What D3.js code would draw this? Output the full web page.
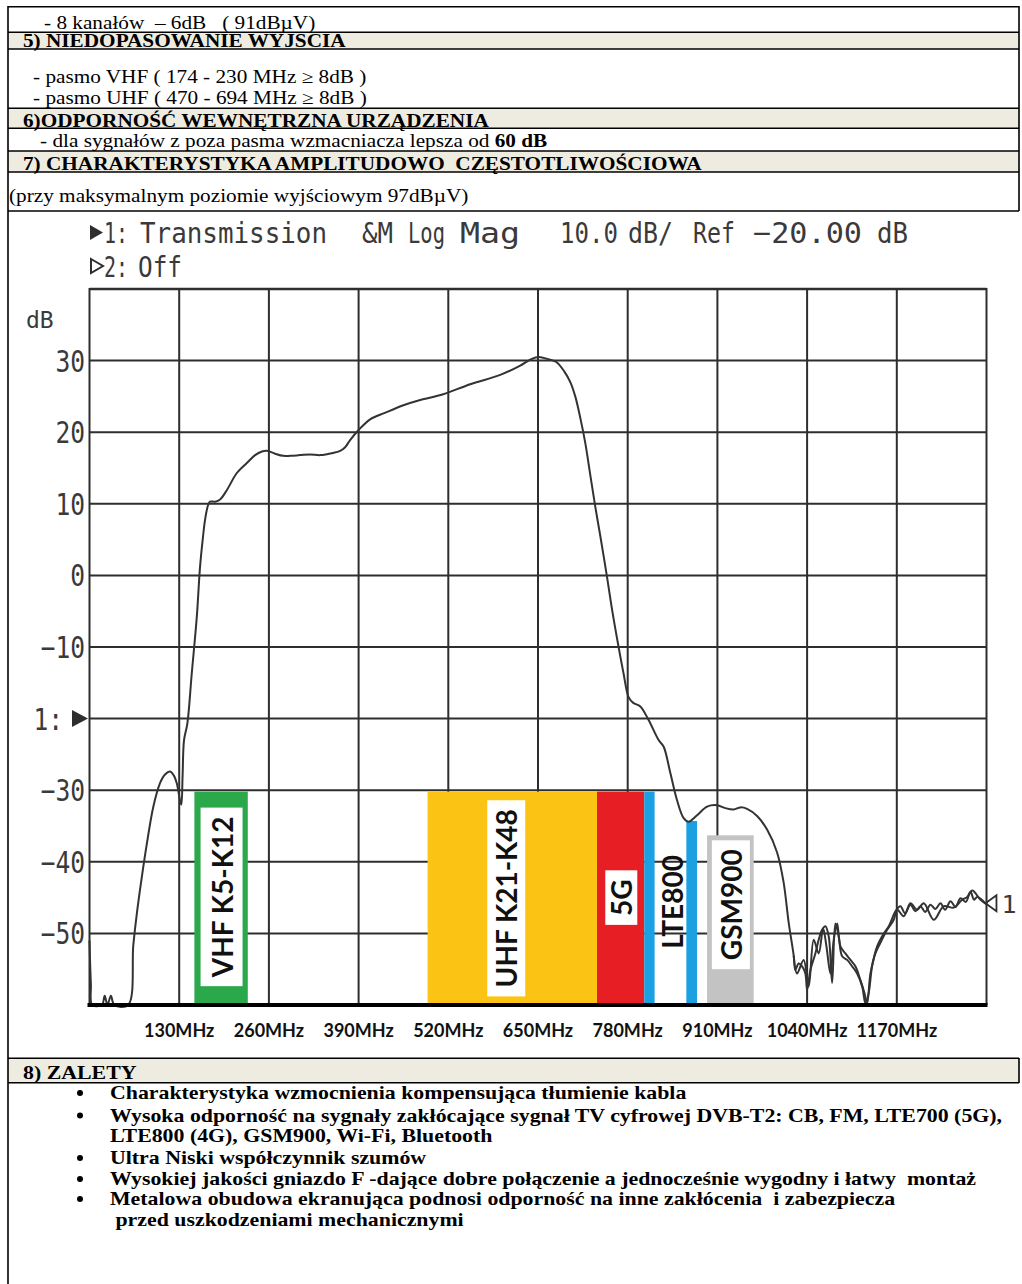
<!DOCTYPE html>
<html><head><meta charset="utf-8">
<script src="https://cdn.jsdelivr.net/npm/d3@7"></script>
<style>
html,body{margin:0;padding:0;background:#fff;}
svg{display:block;}
text{white-space:pre;}
</style></head><body>
<script>
// ---------- DATA ----------
const xGridMHz = [0,130,260,390,520,650,780,910,1040,1170,1300];
const xTickValues = [130,260,390,520,650,780,910,1040,1170];
const xTickLabels = ["130MHz","260MHz","390MHz","520MHz","650MHz","780MHz","910MHz","1040MHz","1170MHz"];
const yGridDb = [40,30,20,10,0,-10,-20,-30,-40,-50,-60];
const yTickValues = [30,20,10,0,-10,-20,-30,-40,-50];
const yTickLabels = ["30","20","10","0","−10","1:","−30","−40","−50"];

// sweep 1 (MHz, dB)
const trace1 = [
 [0,-51],[2,-57],[4,-60],[18,-60],[22,-58.7],[26,-60],[31,-58.7],[36,-60],[56,-60],
 [63.5,-51.6],[68.9,-47],[75.7,-42.2],[82.9,-37.6],[92.5,-32.3],[102.2,-29],[109.5,-27.8],
 [116.7,-27.4],[122.5,-28],[126.4,-29],[131.2,-31.4],[133.1,-32],[134.9,-28],[137,-23],
 [141.8,-20.7],[148.2,-13.7],[155.5,-5.8],[160.2,1.2],[164.6,5.5],[167.5,7.8],[171.8,9.8],
 [174.7,10.3],[182,10.3],[189.2,10.6],[199,11.9],[213.5,14.3],[228,15.7],[240,16.8],
 [250,17.3],[257,17.4],[269,17.0],[280.6,16.7],[290.7,16.7],[305.2,16.8],[319.7,16.9],
 [334.3,16.8],[353,17.1],[363.3,17.4],[370.5,17.9],[377.7,18.9],[390,20.3],[406.7,21.8],
 [428,22.7],[456,23.8],[479.3,24.5],[512.6,25.3],[551.7,26.7],[595.3,28],[624.3,29.3],
 [640.2,30.2],[651.1,30.5],[664.9,30.2],[676.5,29.8],[688,28.5],[696.8,27],[704,25],
 [711.3,22],[718.5,18.5],[725.8,14],[733,9.6],[740.3,5.5],[750,-0.2],[757.7,-5],
 [766.8,-10],[774,-13.7],[781.3,-17],[788.1,-17.8],[798.3,-18.3],[810.3,-20.2],
 [824.8,-23],[832,-23.9],[841.8,-27.6],[851.5,-31.4],[861.1,-33.9],[868.3,-34.4],
 [880.5,-33.5],[895,-32.3],[909.5,-32.1],[921.5,-32.5],[933.6,-32.7],[943.3,-32.4],
 [953,-32.6],[967.5,-33.6],[982,-35.5],[996.5,-38.7],[1006,-42.9],[1013.3,-48.5],
 [1020.6,-53.1],[1023,-55.1],[1027.8,-54.2],[1032.8,-54.6],[1037.5,-55.6],[1040,-57.9],
 [1044.8,-55.1],[1052,-52.8],[1056.8,-50.9],[1061.7,-49.5],[1066.5,-49],[1071.3,-50.4],
 [1076.3,-56.9],[1081,-48.6],[1085.8,-50.4],[1090.8,-53.2],[1098,-53.7],[1105.3,-54.6],
 [1112.5,-55.6],[1119.8,-57.4],[1124.6,-59.8],[1129.3,-58.3],[1134.2,-54.6],[1141.5,-51.8],
 [1151.1,-50],[1158.4,-49],[1168.1,-46.9],[1175.3,-46.2],[1182,-47.2],[1189.8,-46],
 [1197,-46.9],[1204.3,-46.2],[1211,-47],[1218.8,-46],[1226,-46.6],[1233.3,-45.8],
 [1240,-46.7],[1247.8,-45.5],[1255,-46.3],[1262.3,-45.1],[1270,-45.6],[1276.8,-44.2],
 [1282,-45.3],[1286.5,-44.9],[1292,-45.2],[1298.5,-45.8]
];
// sweep 2, differs only in the stop band (MHz, dB)
const trace2 = [
 [1020.6,-53.1],[1025.5,-55.6],[1035,-53.7],[1042.3,-57.4],[1049.6,-50.9],[1056.8,-52.8],
 [1063.2,-49.3],[1068,-51.8],[1073.8,-55.6],[1078.6,-50.9],[1083.5,-48.6],[1088.3,-51.8],
 [1095.5,-52.8],[1102.8,-53.7],[1110,-54.6],[1117.2,-56.5],[1123,-58.3],[1127,-59.8],
 [1131.8,-55.6],[1139,-52.8],[1146.3,-51.3],[1156,-49.5],[1165.6,-48.1],[1170.6,-46.7],
 [1180.1,-47.6],[1189.8,-45.8],[1199.5,-46.7],[1209.1,-45.8],[1223.6,-48.1],[1238.1,-46.2],
 [1252.6,-46.4],[1264.8,-45.3],[1272.1,-44.9],[1279.3,-44],[1291.3,-45.3],[1301,-46]
];

// frequency bands overlay
const bandFromMHz = [152, 490, 735.5, 804, 865, 895];
const bandToMHz   = [229.4, 735.5, 804, 819, 880.5, 962.6];
const bandTopDb   = [-30.2, -30.2, -30.2, -30.2, -34.3, -36.3];
const bandColors  = ["#2aa84a", "#fbc414", "#e81e25", "#1ba1e2", "#1ba1e2", "#c3c3c3"];

const labelTexts = ["VHF K5-K12", "UHF K21-K48", "5G", "LTE800", "GSM900"];
const labelMHz   = [191.4, 604, 770.7, 844.6, 929.5];
const labelDb    = [-44.9, -45.1, -45.0, -45.6, -46.0];
const labelBoxW  = [42, 38, 32, 0, 38];

// ---------- DRAW ----------
const W = 1022, H = 1284;
const svg = d3.select("body").append("svg").attr("width", W).attr("height", H);
const serif = "'Liberation Serif','Times New Roman',serif";
const mono = "'DejaVu Sans Mono',monospace";

function stretch(sel, sx) {
  sel.each(function () {
    const L = this.getComputedTextLength();
    d3.select(this).attr("textLength", L * sx).attr("lengthAdjust", "spacingAndGlyphs");
  });
}

// document table: shaded rows
[[32.3, 49], [108.3, 128.3], [151, 172], [1058.3, 1082.7]].forEach(r => {
  svg.append("rect").attr("x", 8).attr("y", r[0]).attr("width", 1011).attr("height", r[1] - r[0]).attr("fill", "#eeece1");
});
[6.7, 32.3, 49, 108.3, 128.3, 151, 172, 211, 1058.3, 1082.7].forEach(yy => {
  svg.append("line").attr("x1", 8).attr("x2", 1019).attr("y1", yy).attr("y2", yy).attr("stroke", "#000").attr("stroke-width", 1.6);
});
svg.append("line").attr("x1", 8).attr("x2", 8).attr("y1", 6).attr("y2", H).attr("stroke", "#000").attr("stroke-width", 1.6);
svg.append("line").attr("x1", 1019).attr("x2", 1019).attr("y1", 6).attr("y2", 211).attr("stroke", "#000").attr("stroke-width", 1.6);
svg.append("line").attr("x1", 1019).attr("x2", 1019).attr("y1", 1058).attr("y2", 1083).attr("stroke", "#000").attr("stroke-width", 1.6);

const topRows = [
  {t: "- 8 kanałów  – 6dB   ( 91dBµV)", x: 44, y: 29, b: false},
  {t: "5) NIEDOPASOWANIE WYJSCIA", x: 23, y: 46.5, b: true},
  {t: "- pasmo VHF ( 174 - 230 MHz ≥ 8dB )", x: 33, y: 83, b: false},
  {t: "- pasmo UHF ( 470 - 694 MHz ≥ 8dB )", x: 33, y: 104, b: false},
  {t: "6)ODPORNOŚĆ WEWNĘTRZNA URZĄDZENIA", x: 23, y: 126.5, b: true},
  {t: "7) CHARAKTERYSTYKA AMPLITUDOWO  CZĘSTOTLIWOŚCIOWA", x: 23, y: 170, b: true},
  {t: "(przy maksymalnym poziomie wyjściowym 97dBµV)", x: 9, y: 202, b: false}
];
const topText = svg.append("g").attr("font-family", serif).attr("font-size", 18).attr("fill", "#000");
topText.selectAll("text.r").data(topRows).join("text").attr("class", "r")
  .attr("x", d => d.x).attr("y", d => d.y).attr("font-weight", d => d.b ? "bold" : "normal").text(d => d.t);
const dla = topText.append("text").attr("x", 40).attr("y", 146.5);
dla.append("tspan").text("- dla sygnałów z poza pasma wzmacniacza lepsza od ");
dla.append("tspan").attr("font-weight", "bold").text("60 dB");
stretch(topText.selectAll("text"), 1.18);

// ---------- CHART ----------
const x = d3.scaleLinear().domain([0, 1300]).range([89.5, 986.5]);
const y = d3.scaleLinear().domain([-60, 40]).range([1005, 289]);
const ink = "#2e2e2e";

const grid = svg.append("g").attr("stroke", ink).attr("stroke-width", 2);
grid.selectAll("line.v").data(xGridMHz).join("line").attr("class", "v")
  .attr("x1", d => x(d)).attr("x2", d => x(d)).attr("y1", y(40) - 1).attr("y2", y(-60));
grid.selectAll("line.h").data(yGridDb).join("line").attr("class", "h")
  .attr("x1", x(0)).attr("x2", x(1300)).attr("y1", d => y(d)).attr("y2", d => y(d))
  .attr("stroke-width", d => d === 40 ? 2.5 : 2);

// bands
svg.append("g").selectAll("rect").data(bandFromMHz).join("rect")
  .attr("x", (d, i) => x(d)).attr("width", (d, i) => x(bandToMHz[i]) - x(d))
  .attr("y", (d, i) => y(bandTopDb[i])).attr("height", (d, i) => y(-60) - y(bandTopDb[i]))
  .attr("fill", (d, i) => bandColors[i]);

labelTexts.forEach((t, i) => {
  const g = svg.append("g").attr("transform", `translate(${x(labelMHz[i])},${y(labelDb[i])}) rotate(-90)`);
  const r = g.append("rect").attr("fill", "#fff");
  const tx = g.append("text").attr("text-anchor", "middle").attr("dominant-baseline", "central")
    .attr("font-family", "Lato, 'Open Sans', sans-serif").attr("font-weight", 700).attr("font-size", 28)
    .attr("fill", "#111").text(t);
  if (labelBoxW[i] > 0) {
    const L = tx.node().getComputedTextLength();
    r.attr("x", -L / 2 - 9).attr("width", L + 18).attr("y", -labelBoxW[i] / 2).attr("height", labelBoxW[i]);
  } else r.remove();
});

// traces
const line = d3.line().x(d => x(d[0])).y(d => y(d[1])).curve(d3.curveCatmullRom.alpha(0.5));
[trace2, trace1].forEach(tr => {
  svg.append("path").datum(tr).attr("d", line).attr("fill", "none")
    .attr("stroke", "#333").attr("stroke-width", 2).attr("stroke-linejoin", "round");
});

// bottom axis
svg.append("line").attr("x1", x(0) - 2).attr("x2", x(1300) + 1).attr("y1", y(-60)).attr("y2", y(-60))
  .attr("stroke", "#000").attr("stroke-width", 4);
svg.append("g").selectAll("text").data(xTickValues).join("text")
  .attr("x", d => x(d)).attr("y", 1037).attr("text-anchor", "middle")
  .attr("font-family", "Lato, sans-serif").attr("font-weight", 700).attr("font-size", 18).attr("fill", "#111")
  .text((d, i) => xTickLabels[i]);

// y labels
svg.append("g").selectAll("text").data(yTickValues).join("text")
  .attr("transform", (d, i) => `translate(${yTickLabels[i] === "1:" ? 63 : 85},${y(d) + 11}) scale(0.82,1)`)
  .attr("text-anchor", "end").attr("font-family", mono).attr("font-size", 30).attr("fill", "#3a3a3a")
  .text((d, i) => yTickLabels[i]);
// reference marker
svg.append("path").attr("d", `M72,${y(-20) - 8.5}L88,${y(-20)}L72,${y(-20) + 8.5}Z`).attr("fill", ink);
svg.append("text").attr("x", 26).attr("y", 328).attr("font-family", mono).attr("font-size", 23).attr("fill", "#3a3a3a").text("dB");

// header
const hdr = [["1:", 104, 24], ["Transmission", 140, 187], ["&M", 362, 31], ["Log", 408, 37], ["Mag", 460, 60],
             ["10.0", 560, 58], ["dB/", 628, 45], ["Ref", 693, 42], ["−20.00", 753, 109], ["dB", 877, 31]];
const hg = svg.append("g").attr("font-family", mono).attr("font-size", 29).attr("fill", "#3a3a3a");
hdr.forEach(h => hg.append("text").attr("x", h[1]).attr("y", 243).attr("textLength", h[2]).attr("lengthAdjust", "spacingAndGlyphs").text(h[0]));
hg.append("text").attr("x", 104).attr("y", 277).attr("textLength", 24).attr("lengthAdjust", "spacingAndGlyphs").text("2:");
hg.append("text").attr("x", 138).attr("y", 277).attr("textLength", 44).attr("lengthAdjust", "spacingAndGlyphs").text("Off");
svg.append("path").attr("d", "M90,225L103,232.5L90,240Z").attr("fill", ink);
svg.append("path").attr("d", "M91,259L103,266L91,273Z").attr("fill", "none").attr("stroke", ink).attr("stroke-width", 2);

// end marker
const endPt = trace1[trace1.length - 1];
const ex = x(endPt[0]), ey = y(endPt[1]);
svg.append("path").attr("d", `M${ex},${ey}L${ex + 11},${ey - 8}L${ex + 11},${ey + 8}Z`).attr("fill", "none").attr("stroke", ink).attr("stroke-width", 1.8);
svg.append("text").attr("x", ex + 16).attr("y", ey + 10).attr("font-family", mono).attr("font-size", 25).attr("fill", "#3a3a3a").text("1");

// ---------- BOTTOM BLOCK ----------
const bottom = svg.append("g").attr("font-family", serif).attr("font-weight", "bold").attr("font-size", 19.5).attr("fill", "#000");
bottom.append("text").attr("x", 23).attr("y", 1079).text("8) ZALETY");
const bullets = [
  {t: "Charakterystyka wzmocnienia kompensująca tłumienie kabla", y: 1099, dot: true, x: 110},
  {t: "Wysoka odporność na sygnały zakłócające sygnał TV cyfrowej DVB-T2: CB, FM, LTE700 (5G),", y: 1121.5, dot: true, x: 110},
  {t: "LTE800 (4G), GSM900, Wi-Fi, Bluetooth", y: 1141.5, dot: false, x: 110},
  {t: "Ultra Niski współczynnik szumów", y: 1164, dot: true, x: 110},
  {t: "Wysokiej jakości gniazdo F -dające dobre połączenie a jednocześnie wygodny i łatwy  montaż", y: 1185, dot: true, x: 110},
  {t: "Metalowa obudowa ekranująca podnosi odporność na inne zakłócenia  i zabezpiecza", y: 1205, dot: true, x: 110},
  {t: " przed uszkodzeniami mechanicznymi", y: 1226, dot: false, x: 110}
];
bottom.selectAll("text.b").data(bullets).join("text").attr("class", "b").attr("x", d => d.x).attr("y", d => d.y).text(d => d.t);
stretch(bottom.selectAll("text"), 1.12);
svg.append("g").selectAll("circle").data(bullets.filter(d => d.dot)).join("circle")
  .attr("cx", 80).attr("cy", d => d.y - 6).attr("r", 3).attr("fill", "#000");
</script>
</body></html>
